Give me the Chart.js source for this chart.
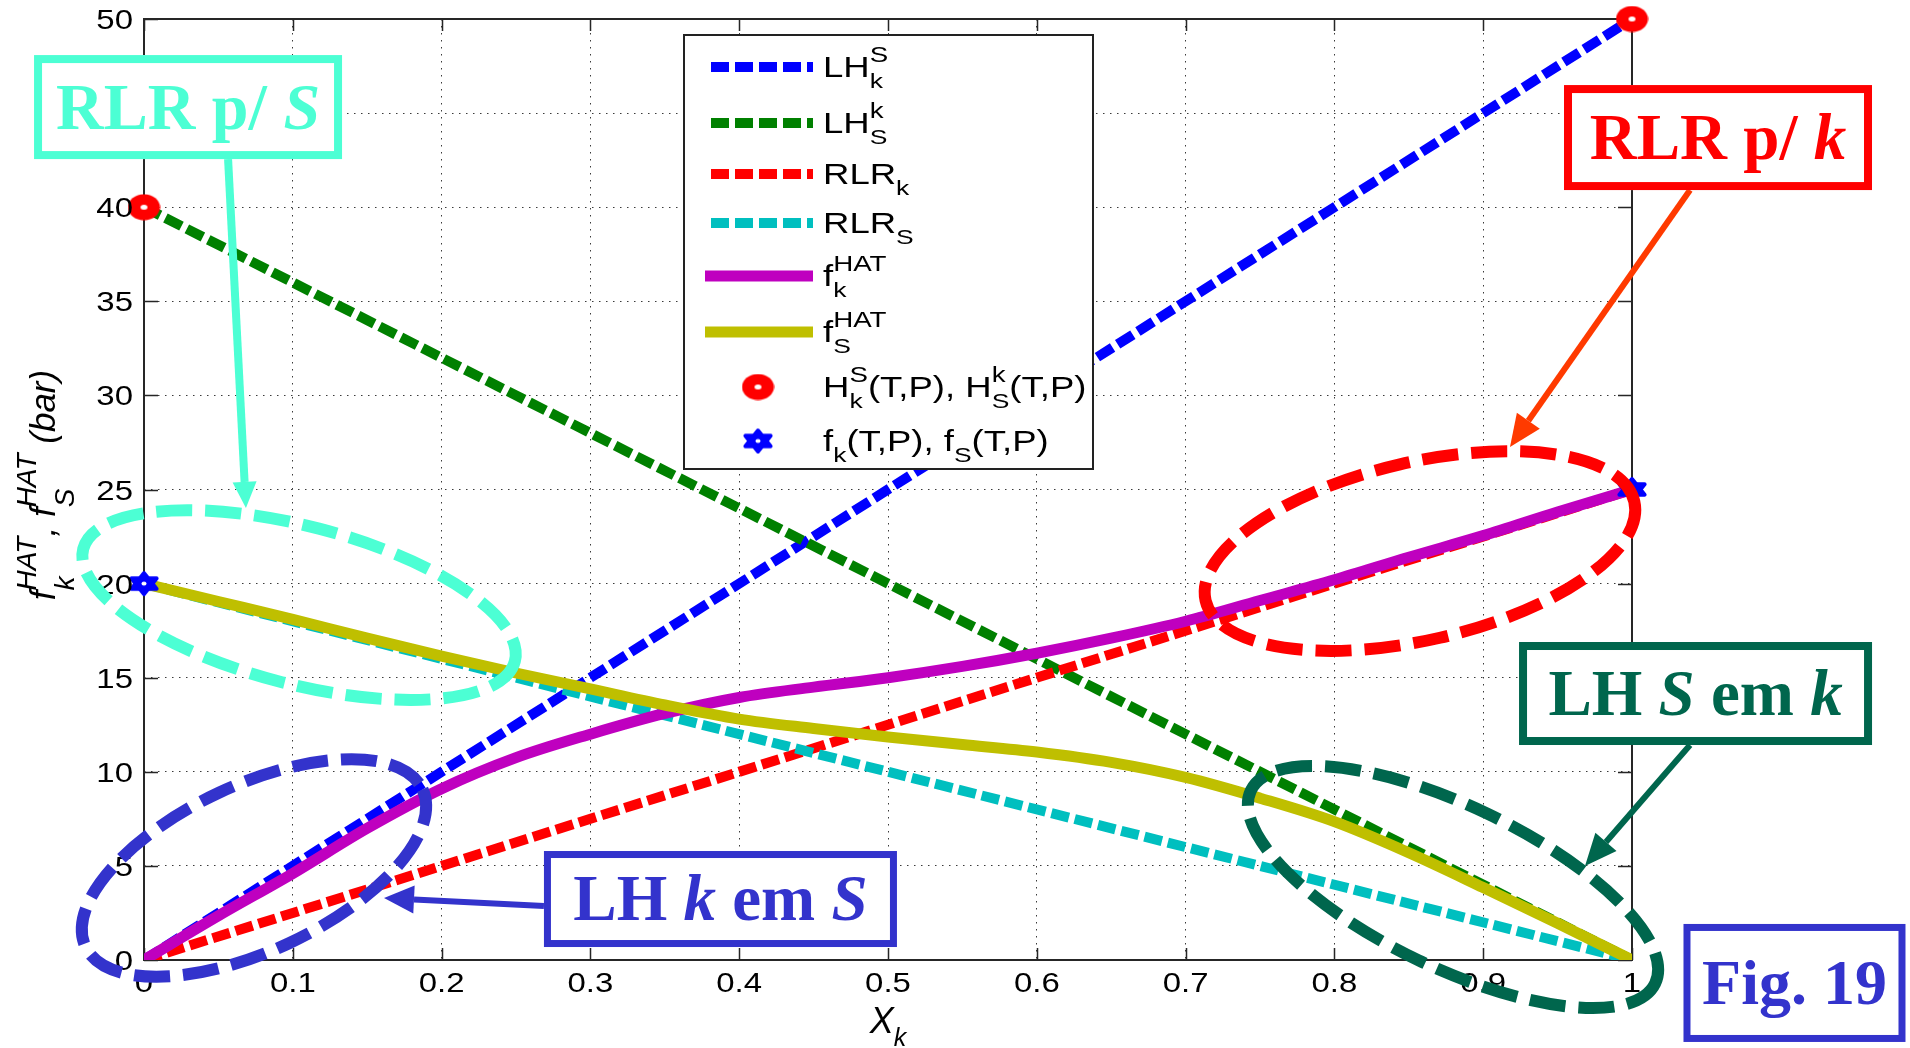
<!DOCTYPE html>
<html>
<head>
<meta charset="utf-8">
<title>Fugacidade HAT</title>
<script src="https://cdn.jsdelivr.net/npm/chart.js@4.4.1/dist/chart.umd.min.js"></script>
<style>
  html, body { margin: 0; padding: 0; background: #ffffff; overflow: hidden; }
  #wrap { position: relative; width: 1910px; height: 1048px; }
  canvas { display: block; }
</style>
</head>
<body>
<div id="wrap"><canvas id="chart" width="1910" height="1048"></canvas></div>
<script>
// ---- data -------------------------------------------------------------
// mole-fraction grid for the HAT fugacity curves
const xGrid = [0, 0.05, 0.1, 0.15, 0.2, 0.25, 0.3, 0.35, 0.4, 0.45, 0.5,
               0.55, 0.6, 0.65, 0.7, 0.75, 0.8, 0.85, 0.9, 0.95, 1];
const fkHat = [0, 2.35, 4.6, 7.0, 9.1, 10.75, 12.0, 13.1, 13.95, 14.5, 15.0,
               15.6, 16.3, 17.1, 18.0, 19.1, 20.2, 21.4, 22.55, 23.8, 25];
const fsHat = [20, 19.05, 18.1, 17.1, 16.15, 15.25, 14.4, 13.55, 12.8, 12.3, 11.85,
               11.45, 11.05, 10.5, 9.7, 8.6, 7.35, 5.7, 3.85, 1.95, 0];

// Henry's-law and Lewis/Randall reference lines (end points)
const lineX = [0, 1];
const lhKS  = [0, 50];   // LH_k^S
const lhSK  = [40, 0];   // LH_S^k
const rlrK  = [0, 25];   // RLR_k
const rlrS  = [20, 0];   // RLR_S

// Henry constants and pure-component fugacities
const henryX = [0, 1];
const henryH = [40, 50];
const pureX  = [0, 1];
const pureF  = [20, 25];

// axis ticks
const xTicks = [0, 0.1, 0.2, 0.3, 0.4, 0.5, 0.6, 0.7, 0.8, 0.9, 1];
const xTickLabels = ['0', '0.1', '0.2', '0.3', '0.4', '0.5', '0.6', '0.7', '0.8', '0.9', '1'];
const yTicks = [0, 5, 10, 15, 20, 25, 30, 35, 40, 45, 50];
const yTickLabels = ['0', '5', '10', '15', '20', '25', '30', '35', '40', '45', '50'];

const pts = (xs, ys) => xs.map((x, i) => ({ x: x, y: ys[i] }));

// ---- marker images ----------------------------------------------------
function ringMarker(w, h, color) {
  const c = document.createElement('canvas');
  c.width = w; c.height = h;
  const g = c.getContext('2d');
  g.fillStyle = color;
  g.beginPath(); g.ellipse(w / 2, h / 2, w / 2 - 0.5, h / 2 - 0.5, 0, 0, Math.PI * 2); g.fill();
  g.fillStyle = '#ffffff';
  g.beginPath(); g.ellipse(w / 2, h / 2, 3.5, 2.5, 0, 0, Math.PI * 2); g.fill();
  return c;
}
function starMarker(w, h, color) {
  const c = document.createElement('canvas');
  c.width = w; c.height = h;
  const g = c.getContext('2d');
  const rx = w / 2 - 3, ry = h / 2 - 3;
  g.fillStyle = color;
  g.strokeStyle = color;
  g.lineWidth = 4;
  g.lineJoin = 'round';
  for (const start of [-90, 90]) {
    g.beginPath();
    for (let k = 0; k < 3; k++) {
      const a = (start + k * 120) * Math.PI / 180;
      const X = w / 2 + Math.cos(a) * rx * 1.12, Y = h / 2 + Math.sin(a) * ry;
      if (k === 0) g.moveTo(X, Y); else g.lineTo(X, Y);
    }
    g.closePath(); g.fill(); g.stroke();
  }
  g.beginPath(); g.ellipse(w / 2, h / 2, rx * 0.7, ry * 0.7, 0, 0, Math.PI * 2); g.fill();
  g.fillStyle = '#ffffff';
  g.beginPath(); g.ellipse(w / 2, h / 2, 2.5, 2, 0, 0, Math.PI * 2); g.fill();
  return c;
}
const redRing = ringMarker(33, 27, '#ff0000');
const blueStar = starMarker(32, 27, '#0000ff');

// ---- styles -----------------------------------------------------------
const DASH = [18, 6];
const dashed = (color) => ({
  borderColor: color, backgroundColor: color, borderWidth: 10,
  borderDash: DASH, borderCapStyle: 'butt', pointRadius: 0, tension: 0, fill: false
});
const solid = (color) => ({
  borderColor: color, backgroundColor: color, borderWidth: 11,
  borderCapStyle: 'butt', pointRadius: 0, fill: false,
  cubicInterpolationMode: 'monotone'
});

const datasets = [
  Object.assign({ label: 'LH_k^S', data: pts(lineX, lhKS), order: 9 }, dashed('#0000ff')),
  Object.assign({ label: 'LH_S^k', data: pts(lineX, lhSK), order: 8 }, dashed('#008000')),
  Object.assign({ label: 'RLR_k',  data: pts(lineX, rlrK), order: 7 }, dashed('#ff0000')),
  Object.assign({ label: 'RLR_S',  data: pts(lineX, rlrS), order: 6 }, dashed('#00bfbf')),
  Object.assign({ label: 'f_k^HAT', data: pts(xGrid, fkHat), order: 5 }, solid('#bf00bf')),
  Object.assign({ label: 'f_S^HAT', data: pts(xGrid, fsHat), order: 4 }, solid('#bfbf00')),
  { label: 'H(T,P)', data: pts(henryX, henryH), showLine: false, pointStyle: redRing,
    pointRadius: 15, borderColor: '#ff0000', backgroundColor: '#ff0000', clip: false, order: 2 },
  { label: 'f(T,P)', data: pts(pureX, pureF), showLine: false, pointStyle: blueStar,
    pointRadius: 15, borderColor: '#0000ff', backgroundColor: '#0000ff', clip: false, order: 1 }
];

// ---- text helpers -----------------------------------------------------
// tokens: [text, role] or {stack: [[text, role], ...]} (sub/superscript pair at same x)
function layoutRich(ctx, tokens, fonts) {
  let x = 0;
  const items = [];
  for (const tk of tokens) {
    if (tk.stack) {
      let w = 0;
      for (const [t, role] of tk.stack) {
        ctx.font = fonts[role].font;
        items.push({ t, role, x });
        w = Math.max(w, ctx.measureText(t).width);
      }
      x += w;
    } else {
      ctx.font = fonts[tk[1]].font;
      items.push({ t: tk[0], role: tk[1], x });
      x += ctx.measureText(tk[0]).width;
    }
  }
  return { items, width: x };
}
function drawRich(ctx, x0, y0, tokens, fonts, sx, color, rot) {
  const L = layoutRich(ctx, tokens, fonts);
  ctx.save();
  ctx.translate(x0, y0);
  if (rot) ctx.rotate(rot);
  ctx.scale(sx, 1);
  ctx.fillStyle = color || '#000';
  ctx.textAlign = 'left';
  ctx.textBaseline = 'alphabetic';
  for (const it of L.items) {
    ctx.font = fonts[it.role].font;
    ctx.fillText(it.t, it.x, fonts[it.role].dy);
  }
  ctx.restore();
  return L.width * sx;
}

const SANS = '"Liberation Sans", Arial, Helvetica, sans-serif';
const SERIF = '"Liberation Serif", "Times New Roman", serif';
const TICK_FONT = '27px ' + SANS;
const TICK_STRETCH = 1.22;
const LEGEND_STRETCH = 1.26;
const legendFonts = {
  n: { font: '29px ' + SANS, dy: 0 },
  b: { font: '21px ' + SANS, dy: 11 },
  p: { font: '22px ' + SANS, dy: -15 }
};

// legend entries: which dataset supplies the sample, and the label tokens
const legendEntries = [
  { ds: 0, kind: 'line', tokens: [['LH', 'n'], { stack: [['k', 'b'], ['S', 'p']] }] },
  { ds: 1, kind: 'line', tokens: [['LH', 'n'], { stack: [['S', 'b'], ['k', 'p']] }] },
  { ds: 2, kind: 'line', tokens: [['RLR', 'n'], ['k', 'b']] },
  { ds: 3, kind: 'line', tokens: [['RLR', 'n'], ['S', 'b']] },
  { ds: 4, kind: 'line', tokens: [['f', 'n'], { stack: [['k', 'b'], ['HAT', 'p']] }] },
  { ds: 5, kind: 'line', tokens: [['f', 'n'], { stack: [['S', 'b'], ['HAT', 'p']] }] },
  { ds: 6, kind: 'marker', tokens: [['H', 'n'], { stack: [['k', 'b'], ['S', 'p']] }, ['(T,P), H', 'n'],
                                    { stack: [['S', 'b'], ['k', 'p']] }, ['(T,P)', 'n']] },
  { ds: 7, kind: 'marker', tokens: [['f', 'n'], ['k', 'b'], ['(T,P), f', 'n'], ['S', 'b'], ['(T,P)', 'n']] }
];
const legendRowY = [32, 88, 139, 188, 241, 297, 352, 406];

// callouts drawn over the figure (positions in axis units)
const callouts = [
  { color: '#4cffd4', box: { x: 0.0296, y: 45.32, w: 308, h: 104, lw: 8 },
    text: [['RLR p/ ', 'r'], ['S', 'i']], size: 66,
    ellipse: { x: 0.1042, y: 18.86, a: 223, b: 79, rot: 14.6 },
    arrow: { from: [0.0565, 42.56], to: [0.0685, 24.02], lw: 8, len: 26, half: 12, color: '#4cffd4' } },
  { color: '#ff0000', box: { x: 1.0578, y: 43.70, w: 308, h: 105, lw: 8 },
    text: [['RLR p/ ', 'r'], ['k', 'i']], size: 65,
    ellipse: { x: 0.8575, y: 21.73, a: 220, b: 89, rot: -13 },
    arrow: { from: [1.039, 40.91], to: [0.918, 27.26], lw: 6, len: 32, half: 14, color: '#ff3a00' } },
  { color: '#00664d', box: { x: 1.0427, y: 14.16, w: 353, h: 103, lw: 8 },
    text: [['LH ', 'r'], ['S', 'i'], [' em ', 'r'], ['k', 'i']], size: 65,
    ellipse: { x: 0.8797, y: 3.88, a: 224, b: 81, rot: 25.5 },
    arrow: { from: [1.039, 11.42], to: [0.9684, 4.99], lw: 6, len: 32, half: 14, color: '#00664d' } },
  { color: '#3333cc', box: { x: 0.3874, y: 3.24, w: 353, h: 96, lw: 7 },
    text: [['LH ', 'r'], ['k', 'i'], [' em ', 'r'], ['S', 'i']], size: 65,
    ellipse: { x: 0.0739, y: 4.89, a: 186, b: 83, rot: -25 },
    arrow: { from: [0.2688, 2.87], to: [0.1613, 3.29], lw: 6, len: 30, half: 14, color: '#3333cc' } },
  { color: '#3333cc', box: { x: 1.1092, y: -1.22, w: 222, h: 118, lw: 7 },
    text: [['Fig. 19', 'r']], size: 64 }
];

// ---- drawing ----------------------------------------------------------
function drawAxesBox(chart) {
  const { ctx, chartArea: a, scales: { x: xs, y: ys } } = chart;
  ctx.save();
  ctx.strokeStyle = '#262626';
  ctx.lineWidth = 1.5;
  ctx.beginPath();
  for (const v of yTicks) {
    const py = Math.round(ys.getPixelForValue(v)) + 0.5;
    ctx.moveTo(a.left, py); ctx.lineTo(a.left + 14, py);
    ctx.moveTo(a.right, py); ctx.lineTo(a.right - 14, py);
  }
  for (const v of xTicks) {
    const px = Math.round(xs.getPixelForValue(v)) + 0.5;
    ctx.moveTo(px, a.bottom); ctx.lineTo(px, a.bottom - 12);
    ctx.moveTo(px, a.top); ctx.lineTo(px, a.top + 12);
  }
  ctx.stroke();
  ctx.lineWidth = 2;
  ctx.strokeRect(a.left, a.top, a.right - a.left, a.bottom - a.top);
  ctx.restore();
}

function drawLegend(chart) {
  const { ctx, chartArea: a } = chart;
  const left = a.left + 540, top = a.top + 16, w = 409, h = 434;
  ctx.save();
  ctx.fillStyle = '#ffffff';
  ctx.fillRect(left, top, w, h);
  ctx.strokeStyle = '#222';
  ctx.lineWidth = 2;
  ctx.strokeRect(left, top, w, h);
  legendEntries.forEach((e, i) => {
    const ds = chart.data.datasets[e.ds];
    const y = top + legendRowY[i];
    if (e.kind === 'line') {
      ctx.save();
      ctx.strokeStyle = ds.borderColor;
      ctx.lineWidth = ds.borderWidth;
      ctx.lineCap = 'butt';
      ctx.setLineDash(ds.borderDash || []);
      ctx.beginPath();
      ctx.moveTo(left + (ds.borderDash ? 27 : 21), y);
      ctx.lineTo(left + 129, y);
      ctx.stroke();
      ctx.restore();
    } else {
      const img = ds.pointStyle;
      ctx.drawImage(img, left + 74 - img.width / 2, y - img.height / 2);
    }
    drawRich(ctx, left + 139, y + 10, e.tokens, legendFonts, LEGEND_STRETCH, '#000');
  });
  ctx.restore();
}

function drawTickLabels(chart) {
  const { ctx, chartArea: a, scales: { x: xs, y: ys } } = chart;
  ctx.save();
  ctx.fillStyle = '#000';
  ctx.font = TICK_FONT;
  ctx.textBaseline = 'alphabetic';
  yTicks.forEach((v, i) => {
    const py = ys.getPixelForValue(v);
    ctx.save();
    ctx.translate(a.left - 11, py + 10);
    ctx.scale(TICK_STRETCH, 1);
    ctx.textAlign = 'right';
    ctx.fillText(yTickLabels[i], 0, 0);
    ctx.restore();
  });
  xTicks.forEach((v, i) => {
    const px = xs.getPixelForValue(v);
    ctx.save();
    ctx.translate(px, a.bottom + 32);
    ctx.scale(TICK_STRETCH, 1);
    ctx.textAlign = 'center';
    ctx.fillText(xTickLabels[i], 0, 0);
    ctx.restore();
  });
  ctx.restore();
}

function drawAxisTitles(chart) {
  const { ctx, chartArea: a } = chart;
  // x title: X_k
  const xf = {
    n: { font: 'italic 36px ' + SANS, dy: 0 },
    b: { font: 'italic 25px ' + SANS, dy: 13 }
  };
  const xt = [['X', 'n'], ['k', 'b']];
  const xw = layoutRich(ctx, xt, xf).width;
  drawRich(ctx, (a.left + a.right) / 2 - xw / 2, a.bottom + 73, xt, xf, 1, '#000');

  // y title: f_k^HAT, f_S^HAT (bar), rotated
  const yf = {
    n: { font: 'italic 35px ' + SANS, dy: 0 },
    b: { font: 'italic 28px ' + SANS, dy: 19 },
    p: { font: 'italic 28px ' + SANS, dy: -19 }
  };
  const yt = [['f', 'n'], { stack: [['k', 'b'], ['HAT', 'p']] }, [', ', 'n'],
              ['f', 'n'], { stack: [['S', 'b'], ['HAT', 'p']] }, [' (bar)', 'n']];
  const yw = layoutRich(ctx, yt, yf).width;
  const cy = 485;
  drawRich(ctx, 55, cy + yw / 2, yt, yf, 1, '#000', -Math.PI / 2);
}

function drawArrow(ctx, x1, y1, x2, y2, o) {
  const ang = Math.atan2(y2 - y1, x2 - x1);
  const bx = x2 - Math.cos(ang) * o.len, by = y2 - Math.sin(ang) * o.len;
  ctx.save();
  ctx.strokeStyle = o.color; ctx.fillStyle = o.color;
  ctx.lineWidth = o.lw; ctx.lineCap = 'butt';
  ctx.beginPath(); ctx.moveTo(x1, y1); ctx.lineTo(bx, by); ctx.stroke();
  ctx.beginPath();
  ctx.moveTo(x2, y2);
  ctx.lineTo(bx + Math.sin(ang) * o.half, by - Math.cos(ang) * o.half);
  ctx.lineTo(bx - Math.sin(ang) * o.half, by + Math.cos(ang) * o.half);
  ctx.closePath(); ctx.fill();
  ctx.restore();
}

function drawCallouts(chart) {
  const { ctx, scales: { x: xs, y: ys } } = chart;
  const px = (v) => xs.getPixelForValue(v), py = (v) => ys.getPixelForValue(v);
  for (const c of callouts) {
    if (c.ellipse) {
      const e = c.ellipse;
      ctx.save();
      ctx.strokeStyle = c.color;
      ctx.lineWidth = 12;
      ctx.setLineDash([36, 13]);
      ctx.beginPath();
      ctx.ellipse(px(e.x), py(e.y), e.a, e.b, e.rot * Math.PI / 180, 0, Math.PI * 2);
      ctx.stroke();
      ctx.restore();
    }
    if (c.arrow) {
      const r = c.arrow;
      drawArrow(ctx, px(r.from[0]), py(r.from[1]), px(r.to[0]), py(r.to[1]), r);
    }
  }
  for (const c of callouts) {
    const b = c.box;
    const cx = px(b.x), cy = py(b.y);
    ctx.save();
    ctx.fillStyle = '#ffffff';
    ctx.fillRect(cx - b.w / 2, cy - b.h / 2, b.w, b.h);
    ctx.strokeStyle = c.color;
    ctx.lineWidth = b.lw;
    ctx.strokeRect(cx - b.w / 2 + b.lw / 2, cy - b.h / 2 + b.lw / 2, b.w - b.lw, b.h - b.lw);
    ctx.restore();
    const fonts = {
      r: { font: 'bold ' + c.size + 'px ' + SERIF, dy: 0 },
      i: { font: 'italic bold ' + c.size + 'px ' + SERIF, dy: 0 }
    };
    const tw = layoutRich(ctx, c.text, fonts).width;
    drawRich(ctx, cx - tw / 2, cy + c.size * 0.33, c.text, fonts, 1, c.color);
  }
}

const decorPlugin = {
  id: 'figureDecor',
  beforeDatasetsDraw(chart) { drawAxesBox(chart); },
  afterDatasetsDraw(chart) { drawLegend(chart); },
  afterDraw(chart) {
    drawTickLabels(chart);
    drawAxisTitles(chart);
    drawCallouts(chart);
  }
};

new Chart(document.getElementById('chart'), {
  type: 'line',
  data: { datasets: datasets },
  options: {
    responsive: false,
    animation: false,
    devicePixelRatio: 1,
    events: [],
    layout: { padding: { left: 144, top: 19, right: 278, bottom: 88 } },
    plugins: { legend: { display: false }, tooltip: { enabled: false }, title: { display: false } },
    scales: {
      x: {
        type: 'linear', min: 0, max: 1,
        afterBuildTicks: (s) => { s.ticks = xTicks.map((v) => ({ value: v })); },
        afterFit: (s) => { s.height = 0; },
        ticks: { display: false },
        grid: { color: '#3a3a3a', lineWidth: 1, drawTicks: false },
        border: { display: false, dash: [1.5, 5.5] }
      },
      y: {
        type: 'linear', min: 0, max: 50,
        afterBuildTicks: (s) => { s.ticks = yTicks.map((v) => ({ value: v })); },
        afterFit: (s) => { s.width = 0; },
        ticks: { display: false },
        grid: { color: '#3a3a3a', lineWidth: 1, drawTicks: false },
        border: { display: false, dash: [1.5, 5.5] }
      }
    }
  },
  plugins: [decorPlugin]
});
</script>
</body>
</html>
